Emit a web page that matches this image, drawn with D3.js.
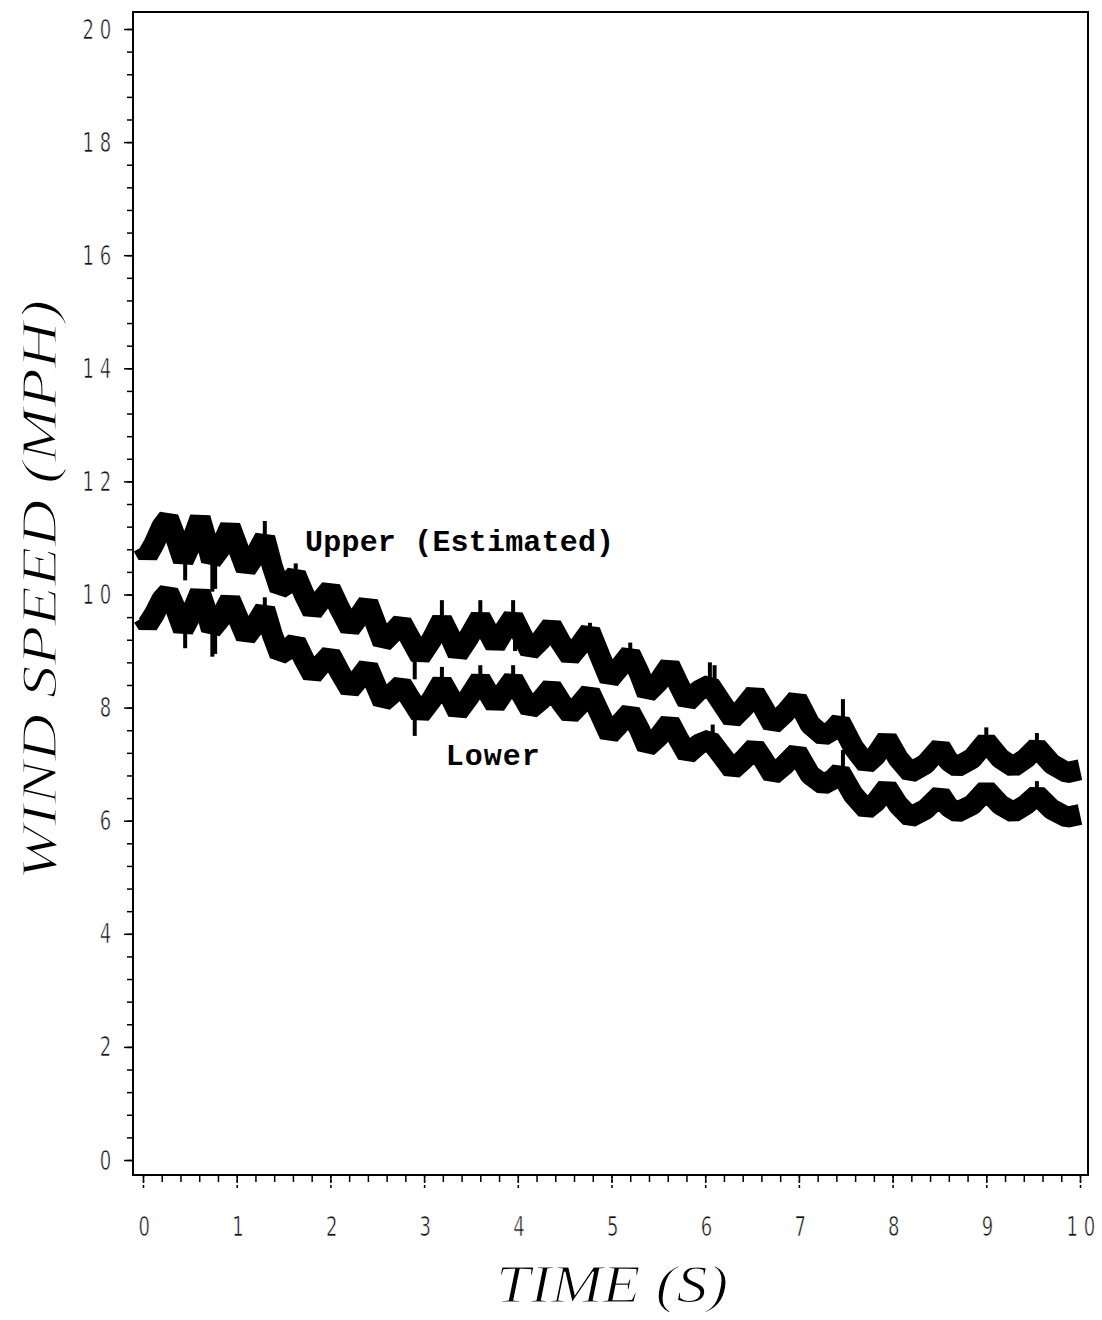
<!DOCTYPE html>
<html>
<head>
<meta charset="utf-8">
<script src="https://cdn.jsdelivr.net/npm/d3@7"></script>
<style>
  body { margin: 0; background: #fff; }
  .tick text { font-family: "DejaVu Sans", sans-serif; }
</style>
</head>
<body>
<div id="chart"></div>
<script>
var W = 1102, H = 1320;

// time (s) sample points
var times = [0.00,0.05,0.12,0.20,0.27,0.35,0.43,0.50,0.61,0.67,0.73,0.82,0.93,1.02,1.10,1.20,1.30,1.38,1.46,1.55,
  1.63,1.72,1.81,1.90,2.00,2.10,2.21,2.30,2.40,2.48,2.56,2.65,2.76,2.86,2.96,3.08,3.19,3.28,3.36,3.48,
  3.60,3.68,3.76,3.85,3.95,4.04,4.13,4.25,4.36,4.46,4.56,4.66,4.77,4.88,4.98,5.08,5.20,5.30,5.38,5.50,
  5.62,5.72,5.81,5.93,6.05,6.17,6.29,6.41,6.53,6.62,6.72,6.85,6.98,7.12,7.26,7.36,7.44,7.58,7.72,7.82,
  7.94,8.06,8.19,8.35,8.51,8.60,8.69,8.85,9.00,9.15,9.29,9.42,9.54,9.70,9.86,10.00];

var upper = [10.85,10.7,10.9,11.2,11.35,11.0,10.6,10.85,11.35,11.0,10.6,10.8,11.2,10.8,10.45,10.7,11.0,10.5,10.1,10.2,
  10.35,10.0,9.7,9.9,10.1,9.75,9.4,9.6,9.85,9.5,9.15,9.3,9.5,9.2,8.9,9.2,9.55,9.25,8.95,9.25,
  9.6,9.35,9.1,9.35,9.6,9.3,9.0,9.2,9.45,9.15,8.9,9.1,9.35,8.9,8.5,8.7,8.95,8.6,8.25,8.45,
  8.75,8.4,8.1,8.3,8.4,8.1,7.8,8.0,8.25,8.0,7.7,7.9,8.15,7.7,7.5,7.6,7.75,7.3,7.0,7.15,
  7.45,7.1,6.85,7.0,7.3,7.05,6.95,7.1,7.4,7.1,6.95,7.1,7.3,7.0,6.85,6.9];

var lower = [9.60,9.47,9.65,9.91,10.04,9.74,9.38,9.60,10.04,9.74,9.38,9.56,9.91,9.56,9.25,9.47,9.74,9.29,8.94,9.03,
  9.16,8.85,8.58,8.76,8.94,8.63,8.32,8.50,8.72,8.41,8.10,8.23,8.41,8.14,7.88,8.14,8.45,8.19,7.92,8.19,
  8.50,8.27,8.05,8.27,8.50,8.23,7.97,8.14,8.36,8.10,7.88,8.05,8.27,7.88,7.52,7.70,7.92,7.61,7.30,7.48,
  7.74,7.43,7.17,7.35,7.43,7.17,6.90,7.08,7.30,7.08,6.81,6.99,7.21,6.81,6.64,6.73,6.86,6.46,6.20,6.33,
  6.59,6.28,6.06,6.20,6.46,6.24,6.15,6.28,6.55,6.28,6.15,6.28,6.46,6.20,6.06,6.11];

// noise spikes: [time, from, to]
var spikes = [[0.45,10.6,10.25],[0.74,10.6,10.05],[0.77,10.6,10.1],[1.30,11.0,11.3],[1.63,10.35,10.55],
  [2.90,9.0,8.5],[3.19,9.55,9.9],[3.60,9.6,9.9],[3.95,9.6,9.9],[3.97,9.4,9.0],[4.77,9.35,9.5],
  [5.20,8.95,9.15],[6.05,8.4,8.8],[6.10,8.4,8.75],[7.47,7.75,8.15],[9.00,7.4,7.65],[9.54,7.3,7.55],
  [0.45,9.38,9.05],[0.74,9.38,8.9],[0.77,9.38,8.95],[1.30,9.74,9.95],[2.90,7.95,7.5],[3.19,8.45,8.72],
  [3.60,8.50,8.75],[3.95,8.50,8.75],[6.08,7.43,7.7],[7.47,6.86,7.25],[9.54,6.46,6.7]];

var yMajor = d3.range(0, 21, 2);
var yMinor = d3.range(0, 20.01, 0.4);
var xMajor = d3.range(0, 11, 1);
var xMinor = d3.range(0, 10.01, 0.2);

var svg = d3.select('#chart').append('svg').attr('width', W).attr('height', H);

var x = d3.scaleLinear().domain([0, 10]).range([143, 1080]);
var y = d3.scaleLinear().domain([0, 20]).range([1160, 29]);

// frame
svg.append('rect')
  .attr('x', 133).attr('y', 12)
  .attr('width', 1088 - 133).attr('height', 1175 - 12)
  .attr('fill', 'none').attr('stroke', '#000').attr('stroke-width', 2);

// narrow the tick digits like the plotter font
function narrow(sel, dx, dy) {
  sel.each(function () {
    var t = d3.select(this);
    t.attr('x', null).attr('y', null).attr('dy', null)
      .attr('transform', 'translate(' + dx + ',' + dy + ') scale(0.72,1.05)');
  });
}

// y axis ticks
var yAxisMinor = d3.axisLeft(y).tickValues(yMinor).tickSize(6).tickFormat('');
var yAxisMajor = d3.axisLeft(y).tickValues(yMajor).tickSize(9);

svg.append('g').attr('transform', 'translate(133,0)').call(yAxisMinor)
  .call(function (g) { g.select('.domain').remove(); })
  .selectAll('line').attr('stroke-width', 1.5);

var gy = svg.append('g').attr('transform', 'translate(133,0)').call(yAxisMajor);
gy.select('.domain').remove();
gy.selectAll('line').attr('stroke-width', 1.5);
gy.selectAll('text')
  .attr('font-size', 25)
  .attr('letter-spacing', 8)
  .attr('fill', '#111')
  .attr('stroke', '#fff').attr('stroke-width', 0.6)
  .attr('text-anchor', 'end')
  .call(narrow, -16, 9);

// x axis ticks
var xAxisMinor = d3.axisBottom(x).tickValues(xMinor).tickSize(7).tickFormat('');
var xAxisMajor = d3.axisBottom(x).tickValues(xMajor).tickSize(13);

svg.append('g').attr('transform', 'translate(0,1175)').call(xAxisMinor)
  .call(function (g) { g.select('.domain').remove(); })
  .selectAll('line').attr('stroke-width', 1.5);

var gx = svg.append('g').attr('transform', 'translate(0,1175)').call(xAxisMajor);
gx.select('.domain').remove();
gx.selectAll('line').attr('stroke-width', 1.5).attr('stroke-dasharray', '3,2');
gx.selectAll('text')
  .attr('font-size', 25)
  .attr('letter-spacing', 8)
  .attr('fill', '#111')
  .attr('stroke', '#fff').attr('stroke-width', 0.6)
  .attr('text-anchor', 'start')
  .each(function (d) {
    var t = d3.select(this);
    var n = String(d).length;
    t.attr('x', null).attr('y', null).attr('dy', null)
      .attr('transform', 'translate(' + (-5 - (n - 1) * 9) + ',61) scale(0.72,1.05)');
  });

// series
var line = d3.line()
  .x(function (d) { return x(d[0]); })
  .y(function (d) { return y(d[1]); })
  .curve(d3.curveLinear);

var series = [upper, lower];
series.forEach(function (vals) {
  var pts = times.map(function (t, i) { return [t, vals[i]]; });
  svg.append('path')
    .datum(pts)
    .attr('d', line)
    .attr('fill', 'none')
    .attr('stroke', '#000')
    .attr('stroke-width', 21)
    .attr('stroke-linejoin', 'bevel');
});

svg.selectAll('.spike')
  .data(spikes)
  .enter()
  .append('line')
  .attr('class', 'spike')
  .attr('x1', function (d) { return x(d[0]); })
  .attr('x2', function (d) { return x(d[0]); })
  .attr('y1', function (d) { return y(d[1]); })
  .attr('y2', function (d) { return y(d[2]); })
  .attr('stroke', '#000')
  .attr('stroke-width', 4);

// annotations
svg.append('text')
  .attr('x', x(1.73)).attr('y', y(10.77))
  .attr('font-family', '"Liberation Mono", "DejaVu Sans Mono", monospace')
  .attr('font-weight', 'bold')
  .attr('font-size', 30)
  .attr('textLength', 309)
  .text('Upper (Estimated)');

svg.append('text')
  .attr('x', x(3.23)).attr('y', y(6.98))
  .attr('font-family', '"Liberation Mono", "DejaVu Sans Mono", monospace')
  .attr('font-weight', 'bold')
  .attr('font-size', 30)
  .attr('textLength', 94)
  .text('Lower');

// axis titles
svg.append('text')
  .attr('transform', 'translate(56,590) rotate(-90)')
  .attr('text-anchor', 'middle')
  .attr('font-family', '"Liberation Serif", "DejaVu Serif", serif')
  .attr('font-style', 'italic')
  .attr('font-size', 50)
  .attr('textLength', 580)
  .attr('lengthAdjust', 'spacingAndGlyphs')
  .attr('stroke', '#fff').attr('stroke-width', 1.2)
  .text('WIND SPEED (MPH)');

svg.append('text')
  .attr('x', 612).attr('y', 1302)
  .attr('text-anchor', 'middle')
  .attr('font-family', '"Liberation Serif", "DejaVu Serif", serif')
  .attr('font-style', 'italic')
  .attr('font-size', 52)
  .attr('textLength', 232)
  .attr('lengthAdjust', 'spacingAndGlyphs')
  .attr('stroke', '#fff').attr('stroke-width', 1.2)
  .text('TIME (S)');
</script>
</body>
</html>
